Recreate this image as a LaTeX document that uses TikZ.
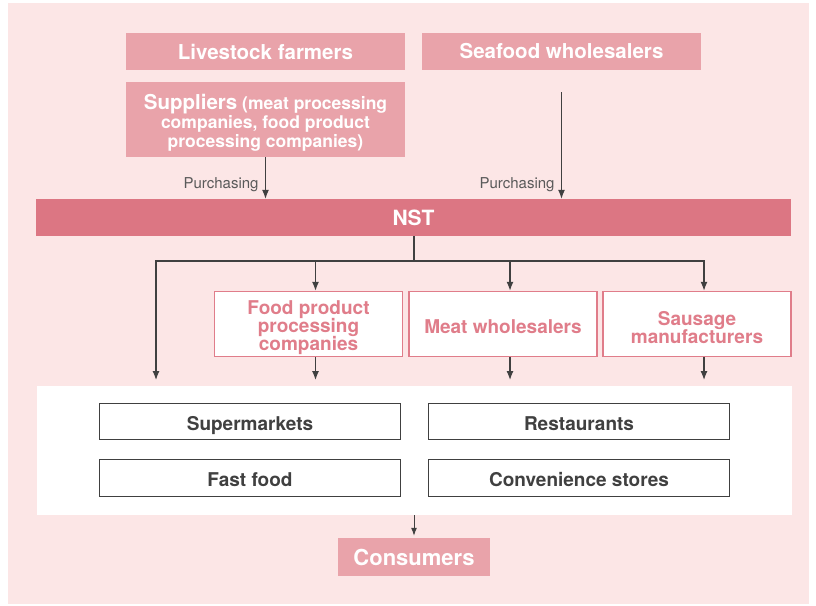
\documentclass[tikz,border=0pt]{standalone}
\usepackage{fontspec}
\setmainfont{TeX Gyre Heros}
\usetikzlibrary{arrows.meta}

\definecolor{bgpink}{HTML}{FCE6E6}
\definecolor{boxpink}{HTML}{E9A3AA}
\definecolor{nstpink}{HTML}{DC7683}
\definecolor{linepink}{HTML}{E07D8A}
\definecolor{darkline}{HTML}{404040}
\definecolor{labelgray}{HTML}{5A5A5A}

\newcommand{\tightlead}{\setlength{\lineskiplimit}{-9pt}}

\begin{document}
\begin{tikzpicture}[
		source/.style={fill=boxpink, inner sep=0pt, text=white, align=center,
			font=\fontsize{20.5}{20.5}\selectfont\bfseries},
		trader/.style={draw=linepink, line width=1.5pt, fill=white, inner sep=0pt,
			minimum width=188pt, minimum height=65pt, text=linepink, align=center,
			font=\tightlead\fontsize{19}{18}\selectfont\bfseries},
		shop/.style={draw=darkline, line width=1.8pt, fill=white, inner sep=0pt,
			minimum width=301pt, minimum height=36pt, text=darkline,
			text height=21pt, text depth=4pt,
			font=\fontsize{19}{19}\selectfont\bfseries},
		link/.style={-{Latex[length=9pt, width=7pt]}, draw=darkline, line width=1.2pt},
		tag/.style={text=labelgray, font=\fontsize{15}{15}\selectfont}
	]

	\useasboundingbox (0pt, 0pt) rectangle (816pt, -605pt);
	\fill[bgpink] (8pt, -3pt) rectangle (809pt, -604pt);

	% suppliers
	\node[source, minimum width=279pt, minimum height=37pt] at (265.5pt, -51.5pt)
		(farmers) {Livestock farmers};
	\node[source, minimum width=279pt, minimum height=37pt] at (561.5pt, -51.5pt)
		(seafood) {Seafood wholesalers};
	\node[source, minimum width=279pt, minimum height=75pt,
		font=\tightlead\fontsize{17.5}{19}\selectfont\bfseries]
		at (265.5pt, -119.5pt) (suppliers)
		{\rule{0pt}{21.5pt}{\fontsize{20.5}{19}\selectfont Suppliers} (meat processing\\companies, food product\\processing companies)};

	\node[fill=nstpink, inner sep=0pt, minimum width=755pt, minimum height=37pt, text=white,
		font=\fontsize{21}{21}\selectfont\bfseries] at (413.5pt, -217.5pt) (nst) {NST};

	\draw[link] (suppliers) -- node[tag, pos=0.67, left, xshift=-3pt] {Purchasing} (suppliers |- nst.north);
	\draw[link, shorten <=22pt] (seafood) -- node[tag, pos=0.893, left, xshift=-3pt] {Purchasing} (seafood |- nst.north);

	% traders
	\node[trader] at (308.5pt, -324pt) (food) {\rule{0pt}{21.5pt}Food product\\processing\\companies};
	\node[trader] at (503pt, -324pt) (meat) {\rule{0pt}{20pt}Meat wholesalers};
	\node[trader] at (697pt, -324pt) (sausage) {\rule{0pt}{21.5pt}Sausage\\manufacturers};

	% retail
	\fill[white] (37pt, -386pt) rectangle (792pt, -515pt);
	\coordinate (panel) at (414.5pt, -386pt);
	\coordinate (panelbottom) at (414.5pt, -515pt);
	\coordinate (direct) at (156pt, -386pt);

	\node[shop] at (250pt, -421.5pt) (super) {Supermarkets};
	\node[shop] at (579pt, -421.5pt) (rest) {Restaurants};
	\node[shop, minimum height=37pt] at (250pt, -478pt) (fast) {Fast food};
	\node[shop, minimum height=37pt] at (579pt, -478pt) (conv) {Convenience stores};

	\node[source, minimum width=152pt, minimum height=38pt, font=\fontsize{22}{22}\selectfont\bfseries]
		at (414pt, -557pt) (consumers) {Consumers};

	\coordinate (split) at (414pt, -261pt);
	\draw[draw=darkline, line width=1.2pt] (nst.south -| split) -- (split);
	\draw[link, shorten >=6pt] (split) -| (direct);
	\foreach \t in {food, meat, sausage}{
		\draw[link] (split) -| ([xshift=7pt]\t.north);
		\draw[link, shorten >=6pt] ([xshift=7pt]\t.south) -- ([xshift=7pt]\t.south |- panel);
	}

	\draw[link, line width=1pt, -{Latex[length=8pt, width=6pt]}, shorten >=2pt] (panelbottom -| consumers) -- (consumers);

\end{tikzpicture}
\end{document}
